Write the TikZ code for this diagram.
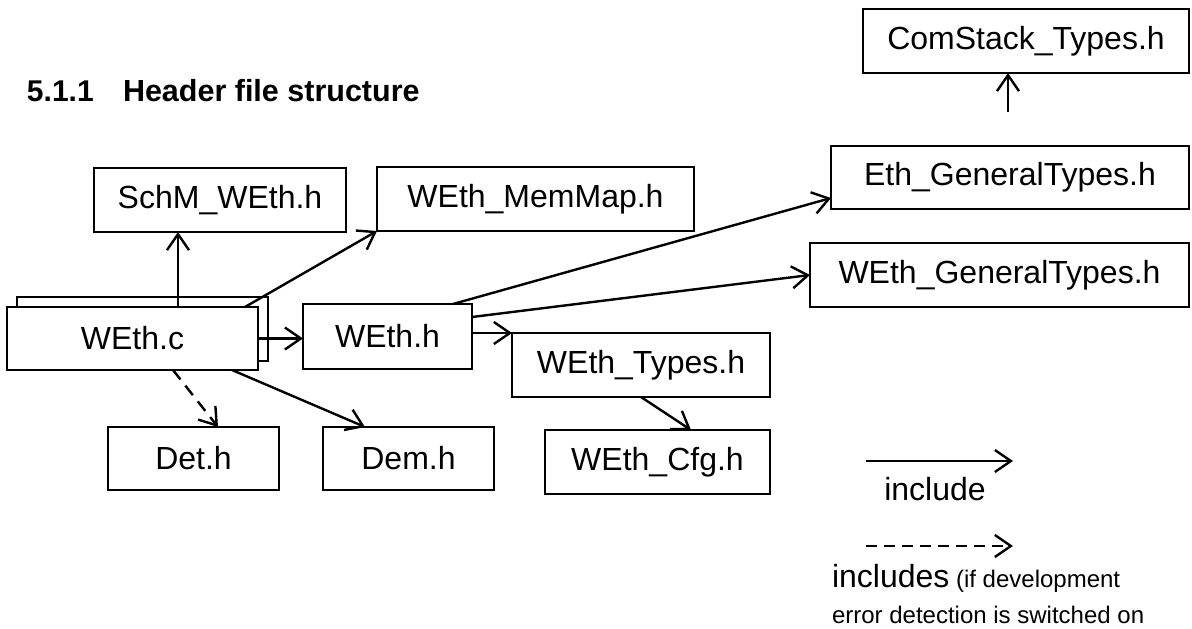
\documentclass[tikz,border=0pt]{standalone}
\usepackage{fontspec}
\setmainfont{Liberation Sans}
\usetikzlibrary{arrows.meta,calc}
\begin{document}
\begin{tikzpicture}[x=1pt,y=-1pt,
  every node/.style={inner sep=0pt,outer sep=0pt},
  box/.style={draw,line width=2.6pt,fill=white,align=center,font=\fontsize{32}{38}\selectfont},
  arr/.style={line width=2.4pt,-{Straight Barb[length=16pt,width=22pt,line width=2.4pt]}},
  darr/.style={arr,dash pattern=on 12pt off 8pt},
  lbl/.style={font=\fontsize{32}{38}\selectfont},
  small/.style={font=\fontsize{24}{30}\selectfont}]
\useasboundingbox (0,0) rectangle (1192,629);

% heading
\node[anchor=base west,font=\fontsize{30}{36}\bfseries\selectfont] (num) at (27,101) {5.1.1};
\node[anchor=base west,font=\fontsize{30.5}{36}\bfseries\selectfont] (head) at (123,101) {Header file structure};

% boxes
\node[box,minimum width=326pt,minimum height=64pt] (ComStack) at (1026,41) {ComStack\_Types.h};
\node[box,minimum width=358pt,minimum height=63pt] (EthGen) at (1010,177.5) {Eth\_GeneralTypes.h};
\node[box,minimum width=379pt,minimum height=64pt] (WEthGen) at (999.5,275) {WEth\_GeneralTypes.h};
\node[box,minimum width=252pt,minimum height=64pt] (SchM) at (220,200) {SchM\_WEth.h};
\node[box,minimum width=317pt,minimum height=64pt] (MemMap) at (535.5,199) {WEth\_MemMap.h};
\node[box,minimum width=251pt,minimum height=64pt] (WEthcBack) at (142.5,329) {};
\node[box,minimum width=251pt,minimum height=63pt] (WEthc) at (132.5,338.5) {WEth.c};
\node[box,minimum width=169pt,minimum height=65pt] (WEthh) at (387.5,336.5) {WEth.h};
\node[box,minimum width=258pt,minimum height=64pt] (WEthTypes) at (641,365) {WEth\_Types.h};
\node[box,minimum width=225pt,minimum height=64pt] (WEthCfg) at (657.5,462) {WEth\_Cfg.h};
\node[box,minimum width=171pt,minimum height=63pt] (Det) at (193.5,458.5) {Det.h};
\node[box,minimum width=171pt,minimum height=63pt] (Dem) at (408.5,458.5) {Dem.h};

% connectors
\draw[arr] (178,0 |- WEthc.north) -- (178,0 |- SchM.south);
\draw[arr] (245,0 |- WEthc.north) -- (MemMap.south west);
\draw[arr] (WEthc.east) -- (WEthc.east -| WEthh.west);
\draw[darr] (173,0 |- WEthc.south) -- (218,0 |- Det.north);
\draw[arr] (232,0 |- WEthc.south) -- (365,0 |- Dem.north);
\draw[arr] (453,0 |- WEthh.north) -- ($(EthGen.west)+(0,20.5)$);
\draw[arr] ($(WEthh.east)+(0,-19.5)$) -- (WEthGen.west);
\draw[arr] (WEthTypes.north west -| WEthh.east) -- (WEthTypes.north west);
\draw[arr] (WEthTypes.south) -- ($(WEthCfg.north)+(33.5,0)$);
\coordinate (cs) at (1008,112);
\draw[arr] (cs) -- (cs |- ComStack.south);

% legend
\coordinate (la) at (866,461);
\coordinate (lb) at (1013,461);
\draw[arr] (la) -- (lb);
\node[lbl,anchor=base] (inc) at (935,500) {include};
\coordinate (da) at (866,546);
\coordinate (db) at (1013,546);
\draw[darr,dash pattern=on 11pt off 7pt] (da) -- (db);
\node[anchor=base west] (incs) at (832,587) {\fontsize{32}{38}\selectfont includes\fontsize{24}{30}\selectfont{} (if development};
\node[small,anchor=base west] (err) at (832,623) {error detection is switched on};
\end{tikzpicture}
\end{document}
